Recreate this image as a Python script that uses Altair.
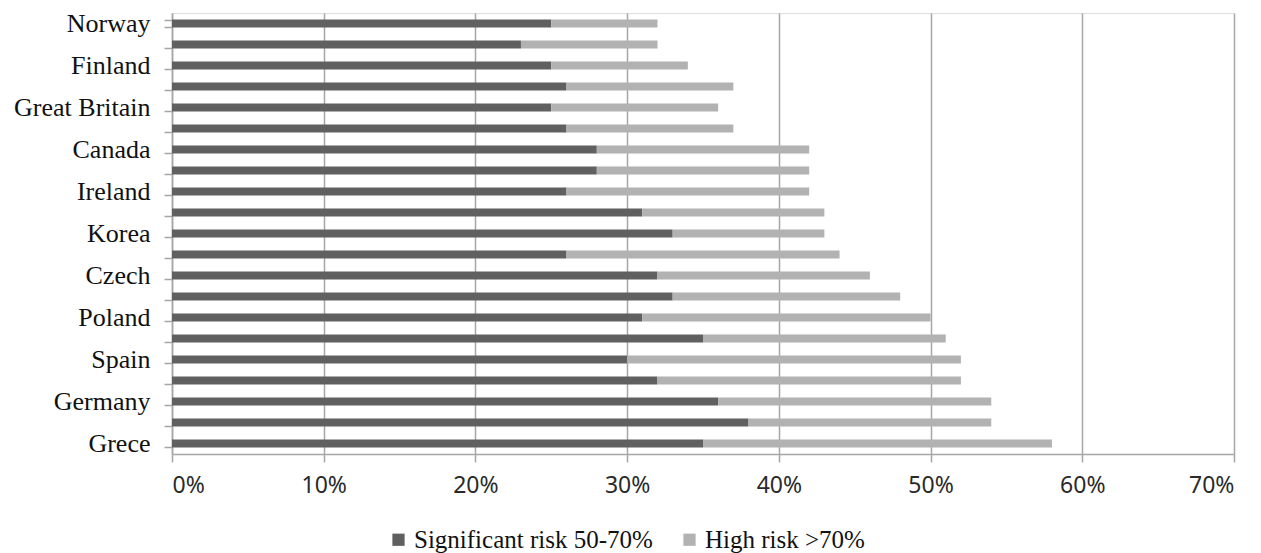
import altair as alt
import pandas as pd

# Rows from top to bottom; only every other row carries a country label
row_labels = ["Norway", "", "Finland", "", "Great Britain", "", "Canada", "",
              "Ireland", "", "Korea", "", "Czech", "", "Poland", "", "Spain", "",
              "Germany", "", "Grece"]
significant = [25, 23, 25, 26, 25, 26, 28, 28, 26, 31, 33, 26, 32, 33, 31, 35,
               30, 32, 36, 38, 35]
high = [7, 9, 9, 11, 11, 11, 14, 14, 16, 12, 10, 18, 14, 15, 19, 16, 22, 20,
        18, 16, 23]
series = ["Significant risk 50-70%", "High risk >70%"]
series_colors = ["#606060", "#b2b2b2"]
x_ticks = [0, 10, 20, 30, 40, 50, 60, 70]

row_keys = [f"r{i:02d}" for i in range(len(row_labels))]
records = []
for i, key in enumerate(row_keys):
    records.append({"row": key, "risk": series[0], "seg": 0, "value": significant[i]})
    records.append({"row": key, "risk": series[1], "seg": 1, "value": high[i]})
df = pd.DataFrame(records)

label_js = "[" + ",".join("'" + s + "'" for s in row_labels) + "]"
label_expr = f"{label_js}[toNumber(substring(datum.value, 1))]"

serif = "Liberation Serif"
grid_grey = "#a6a6a6"

chart = (
    alt.Chart(df)
    .mark_bar()
    .encode(
        x=alt.X(
            "value:Q",
            stack="zero",
            scale=alt.Scale(domain=[0, 70], nice=False),
            axis=alt.Axis(
                title=None,
                values=x_ticks,
                labelExpr="datum.value + '%'",
                labelFont="Noto Sans",
                labelFontSize=23,
                labelColor="#2a2a2a",
                labelPadding=12,
                tickSize=8,
                tickColor=grid_grey,
                tickWidth=1.5,
                domainColor=grid_grey,
                domainWidth=1.5,
                grid=True,
                gridColor=grid_grey,
                gridWidth=1.5,
            ),
        ),
        y=alt.Y(
            "row:N",
            sort=row_keys,
            scale=alt.Scale(paddingInner=0.62, paddingOuter=0.31),
            axis=alt.Axis(
                title=None,
                labelExpr=label_expr,
                labelFont=serif,
                labelFontSize=26,
                labelColor="#111111",
                labelPadding=14,
                tickBand="extent",
                tickSize=8,
                tickColor=grid_grey,
                tickWidth=1.5,
                domainColor=grid_grey,
                domainWidth=1.5,
                grid=False,
            ),
        ),
        color=alt.Color(
            "risk:N",
            scale=alt.Scale(domain=series, range=series_colors),
            sort=series,
            legend=alt.Legend(
                title=None,
                orient="none",
                direction="horizontal",
                legendX=214,
                legendY=514,
                symbolType="square",
                symbolSize=150,
                symbolStrokeWidth=0,
                labelFont=serif,
                labelFontSize=25,
                labelColor="#111111",
                labelOffset=3,
                labelLimit=0,
                columnPadding=24,
            ),
        ),
        order=alt.Order("seg:Q"),
    )
    .properties(
        width=1062,
        height=441,
        autosize=alt.AutoSizeParams(type="none"),
        padding={"left": 172, "top": 13, "right": 27, "bottom": 99},
    )
    .configure_view(stroke=None)
    .configure(background="white")
)

chart.save("out.html", embed_options={"renderer": "svg", "actions": False})
